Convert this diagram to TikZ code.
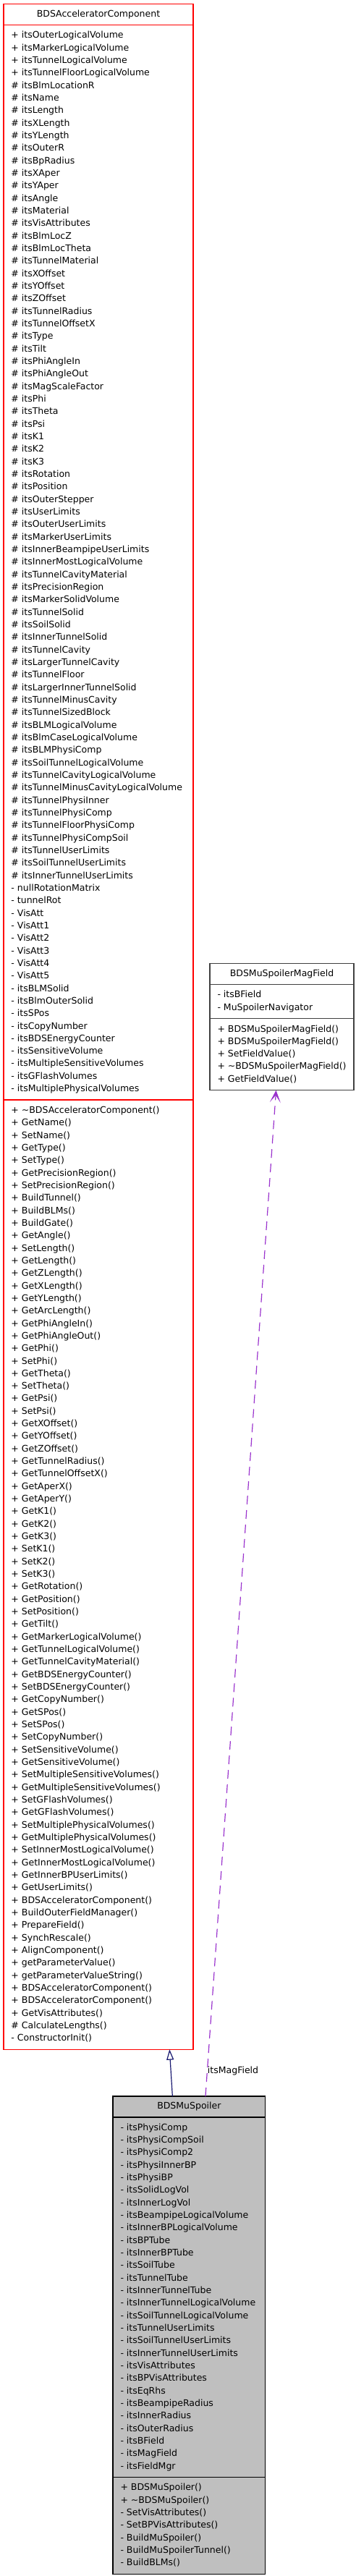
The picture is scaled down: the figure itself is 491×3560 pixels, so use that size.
\documentclass[tikz,border=0pt]{standalone}
\usepackage{fontspec}
\setmainfont{DejaVu Sans}
\usepackage{xcolor}
\usetikzlibrary{shapes.multipart, arrows.meta, positioning}
\definecolor{usepurple}{HTML}{9A32CD}
\definecolor{inhnavy}{HTML}{191970}
\definecolor{refgrey}{HTML}{404040}
\definecolor{mainfill}{HTML}{BFBFBF}
\newcommand{\tstrut}{\rule[-5pt]{0pt}{16.5pt}}
\newcommand{\members}[1]{\begin{tabular}{@{}l@{}}#1\end{tabular}}
\tikzset{
  umlclass/.style = {rectangle split, rectangle split parts=3, draw,
                     line width=1.2pt, rectangle split part align={center,left,left},
                     inner xsep=10.5pt, inner ysep=5.6pt,
                     outer sep=0pt, anchor=north west},
  truncls/.style  = {umlclass, draw=red},
  refcls/.style   = {umlclass, draw=refgrey},
  maincls/.style  = {umlclass, draw=black, fill=mainfill},
  inherit/.style  = {-{Triangle[open, length=14.5pt, width=10pt]}, draw=inhnavy,
                     line width=1.2pt},
  usage/.style    = {-{Stealth[length=17pt, width=15pt, inset=10pt]}, draw=usepurple,
                     line width=1.2pt, dash pattern=on 12pt off 8pt},
}
\begin{document}
\begin{tikzpicture}[x=1pt, y=-1pt, font={\fontsize{12.5}{17.33}\selectfont}]
  \useasboundingbox (0,0) rectangle (491,3560);

  % base class
  \node[truncls, minimum width=262pt] (comp) at (5,5.7) {\tstrut BDSAcceleratorComponent
  \nodepart{two}\members{+ itsOuterLogicalVolume\\
  + itsMarkerLogicalVolume\\
  + itsTunnelLogicalVolume\\
  + itsTunnelFloorLogicalVolume\\
  \# itsBlmLocationR\\
  \# itsName\\
  \# itsLength\\
  \# itsXLength\\
  \# itsYLength\\
  \# itsOuterR\\
  \# itsBpRadius\\
  \# itsXAper\\
  \# itsYAper\\
  \# itsAngle\\
  \# itsMaterial\\
  \# itsVisAttributes\\
  \# itsBlmLocZ\\
  \# itsBlmLocTheta\\
  \# itsTunnelMaterial\\
  \# itsXOffset\\
  \# itsYOffset\\
  \# itsZOffset\\
  \# itsTunnelRadius\\
  \# itsTunnelOffsetX\\
  \# itsType\\
  \# itsTilt\\
  \# itsPhiAngleIn\\
  \# itsPhiAngleOut\\
  \# itsMagScaleFactor\\
  \# itsPhi\\
  \# itsTheta\\
  \# itsPsi\\
  \# itsK1\\
  \# itsK2\\
  \# itsK3\\
  \# itsRotation\\
  \# itsPosition\\
  \# itsOuterStepper\\
  \# itsUserLimits\\
  \# itsOuterUserLimits\\
  \# itsMarkerUserLimits\\
  \# itsInnerBeampipeUserLimits\\
  \# itsInnerMostLogicalVolume\\
  \# itsTunnelCavityMaterial\\
  \# itsPrecisionRegion\\
  \# itsMarkerSolidVolume\\
  \# itsTunnelSolid\\
  \# itsSoilSolid\\
  \# itsInnerTunnelSolid\\
  \# itsTunnelCavity\\
  \# itsLargerTunnelCavity\\
  \# itsTunnelFloor\\
  \# itsLargerInnerTunnelSolid\\
  \# itsTunnelMinusCavity\\
  \# itsTunnelSizedBlock\\
  \# itsBLMLogicalVolume\\
  \# itsBlmCaseLogicalVolume\\
  \# itsBLMPhysiComp\\
  \# itsSoilTunnelLogicalVolume\\
  \# itsTunnelCavityLogicalVolume\\
  \# itsTunnelMinusCavityLogicalVolume\\
  \# itsTunnelPhysiInner\\
  \# itsTunnelPhysiComp\\
  \# itsTunnelFloorPhysiComp\\
  \# itsTunnelPhysiCompSoil\\
  \# itsTunnelUserLimits\\
  \# itsSoilTunnelUserLimits\\
  \# itsInnerTunnelUserLimits\\
  - nullRotationMatrix\\
  - tunnelRot\\
  - VisAtt\\
  - VisAtt1\\
  - VisAtt2\\
  - VisAtt3\\
  - VisAtt4\\
  - VisAtt5\\
  - itsBLMSolid\\
  - itsBlmOuterSolid\\
  - itsSPos\\
  - itsCopyNumber\\
  - itsBDSEnergyCounter\\
  - itsSensitiveVolume\\
  - itsMultipleSensitiveVolumes\\
  - itsGFlashVolumes\\
  - itsMultiplePhysicalVolumes}
  \nodepart{three}\members{+ \textasciitilde BDSAcceleratorComponent()\\
  + GetName()\\
  + SetName()\\
  + GetType()\\
  + SetType()\\
  + GetPrecisionRegion()\\
  + SetPrecisionRegion()\\
  + BuildTunnel()\\
  + BuildBLMs()\\
  + BuildGate()\\
  + GetAngle()\\
  + SetLength()\\
  + GetLength()\\
  + GetZLength()\\
  + GetXLength()\\
  + GetYLength()\\
  + GetArcLength()\\
  + GetPhiAngleIn()\\
  + GetPhiAngleOut()\\
  + GetPhi()\\
  + SetPhi()\\
  + GetTheta()\\
  + SetTheta()\\
  + GetPsi()\\
  + SetPsi()\\
  + GetXOffset()\\
  + GetYOffset()\\
  + GetZOffset()\\
  + GetTunnelRadius()\\
  + GetTunnelOffsetX()\\
  + GetAperX()\\
  + GetAperY()\\
  + GetK1()\\
  + GetK2()\\
  + GetK3()\\
  + SetK1()\\
  + SetK2()\\
  + SetK3()\\
  + GetRotation()\\
  + GetPosition()\\
  + SetPosition()\\
  + GetTilt()\\
  + GetMarkerLogicalVolume()\\
  + GetTunnelLogicalVolume()\\
  + GetTunnelCavityMaterial()\\
  + GetBDSEnergyCounter()\\
  + SetBDSEnergyCounter()\\
  + GetCopyNumber()\\
  + GetSPos()\\
  + SetSPos()\\
  + SetCopyNumber()\\
  + SetSensitiveVolume()\\
  + GetSensitiveVolume()\\
  + SetMultipleSensitiveVolumes()\\
  + GetMultipleSensitiveVolumes()\\
  + SetGFlashVolumes()\\
  + GetGFlashVolumes()\\
  + SetMultiplePhysicalVolumes()\\
  + GetMultiplePhysicalVolumes()\\
  + SetInnerMostLogicalVolume()\\
  + GetInnerMostLogicalVolume()\\
  + GetInnerBPUserLimits()\\
  + GetUserLimits()\\
  + BDSAcceleratorComponent()\\
  + BuildOuterFieldManager()\\
  + PrepareField()\\
  + SynchRescale()\\
  + AlignComponent()\\
  + getParameterValue()\\
  + getParameterValueString()\\
  + BDSAcceleratorComponent()\\
  + BDSAcceleratorComponent()\\
  + GetVisAttributes()\\
  \# CalculateLengths()\\
  - ConstructorInit()}};

  % field class
  \node[refcls, minimum width=196pt] (field) at (290,1331.7) {\tstrut BDSMuSpoilerMagField
  \nodepart{two}\members{- itsBField\\
  - MuSpoilerNavigator}
  \nodepart{three}\members{+ BDSMuSpoilerMagField()\\
  + BDSMuSpoilerMagField()\\
  + SetFieldValue()\\
  + \textasciitilde BDSMuSpoilerMagField()\\
  + GetFieldValue()}};

  % documented class
  \node[maincls, minimum width=210.7pt] (mus) at (156,2897) {\tstrut BDSMuSpoiler
  \nodepart{two}\members{- itsPhysiComp\\
  - itsPhysiCompSoil\\
  - itsPhysiComp2\\
  - itsPhysiInnerBP\\
  - itsPhysiBP\\
  - itsSolidLogVol\\
  - itsInnerLogVol\\
  - itsBeampipeLogicalVolume\\
  - itsInnerBPLogicalVolume\\
  - itsBPTube\\
  - itsInnerBPTube\\
  - itsSoilTube\\
  - itsTunnelTube\\
  - itsInnerTunnelTube\\
  - itsInnerTunnelLogicalVolume\\
  - itsSoilTunnelLogicalVolume\\
  - itsTunnelUserLimits\\
  - itsSoilTunnelUserLimits\\
  - itsInnerTunnelUserLimits\\
  - itsVisAttributes\\
  - itsBPVisAttributes\\
  - itsEqRhs\\
  - itsBeampipeRadius\\
  - itsInnerRadius\\
  - itsOuterRadius\\
  - itsBField\\
  - itsMagField\\
  - itsFieldMgr}
  \nodepart{three}\members{+ BDSMuSpoiler()\\
  + \textasciitilde BDSMuSpoiler()\\
  - SetVisAttributes()\\
  - SetBPVisAttributes()\\
  - BuildMuSpoiler()\\
  - BuildMuSpoilerTunnel()\\
  - BuildBLMs()}};

  \draw[inherit] ([xshift=-23pt]mus.north) -- ([xshift=98.3pt]comp.south);
  \draw[usage] ([xshift=22.6pt]mus.north) -- ([xshift=-8pt]field.south)
    node[pos=0.025, anchor=west, inner sep=0pt] (maglbl) {itsMagField};
\end{tikzpicture}
\end{document}
